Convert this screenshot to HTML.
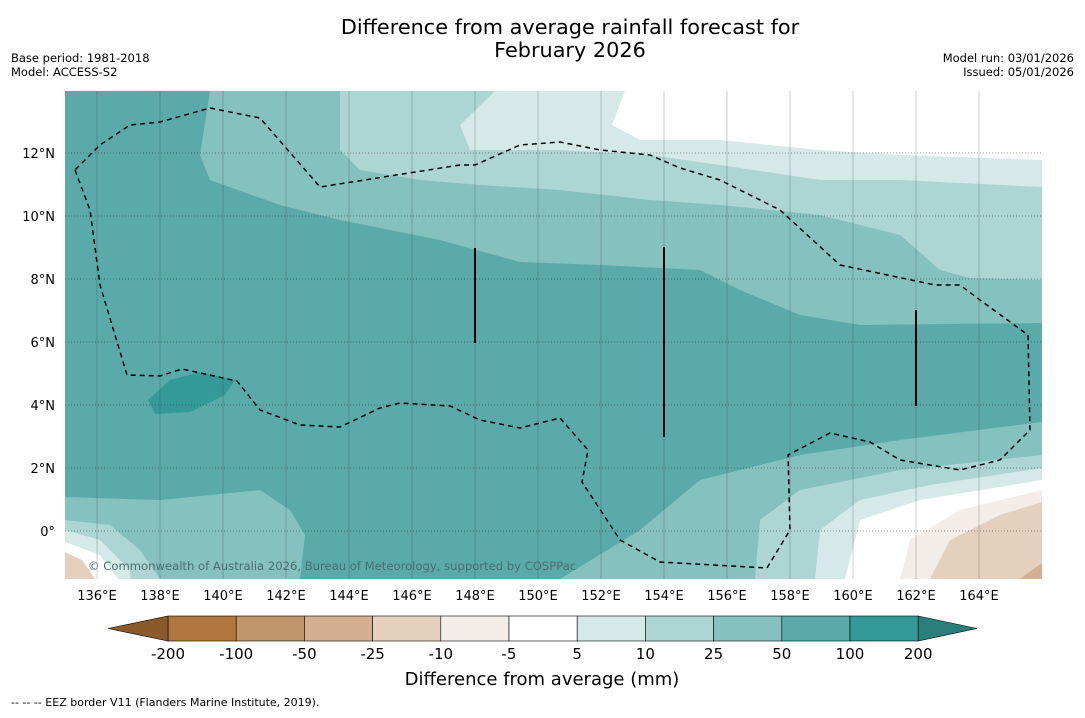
<!DOCTYPE html>
<html><head><meta charset="utf-8"><style>
body{margin:0;background:#fff;font-family:"Liberation Sans","DejaVu Sans",sans-serif;}
svg text{font-family:"DejaVu Sans","Liberation Sans",sans-serif;}
</style></head><body>
<svg id="c" width="1085" height="713" viewBox="0 0 1085 713">
<rect width="1085" height="713" fill="#fff"/>
<text x="570" y="34" font-size="20.8" text-anchor="middle">Difference from average rainfall forecast for</text>
<text x="570" y="57" font-size="20.8" text-anchor="middle">February 2026</text>
<text x="11" y="62" font-size="11.5">Base period: 1981-2018</text>
<text x="11" y="76" font-size="11.5">Model: ACCESS-S2</text>
<text x="1074" y="62" font-size="11.5" text-anchor="end">Model run: 03/01/2026</text>
<text x="1074" y="76" font-size="11.5" text-anchor="end">Issued: 05/01/2026</text>
<defs><clipPath id="mc"><rect x="65" y="91" width="977" height="488"/></clipPath></defs>
<g id="map" clip-path="url(#mc)">
<rect x="65" y="91" width="977" height="488" fill="#5aaaaa"/>
<polygon fill="#84c1bf" points="210,91 200,155 210,180 280,205 340,220 440,240 520,262 600,265 700,270 740,290 800,315 860,325 1042,323 1042,91"/>
<polygon fill="#acd5d4" points="340,91 340,150 360,170 420,180 480,185 560,190 650,200 720,205 820,215 900,235 940,270 970,278 1042,280 1042,91"/>
<polygon fill="#d5e9e8" points="495,91 460,125 470,150 560,150 650,155 720,165 820,180 900,180 1042,187 1042,91"/>
<polygon fill="#ffffff" points="625,91 612,125 640,140 720,140 820,150 900,155 1042,160 1042,91"/>
<polygon fill="#84c1bf" points="65,497 160,500 260,490 290,510 305,535 300,579 65,579"/>
<polygon fill="#84c1bf" points="560,579 640,530 700,480 800,455 900,440 1042,422 1042,579"/>
<polygon fill="#acd5d4" points="755,579 760,520 800,490 900,470 1042,455 1042,579"/>
<polygon fill="#acd5d4" points="65,520 110,525 140,550 160,579 65,579"/>
<polygon fill="#d5e9e8" points="815,579 820,530 860,500 930,485 1042,468 1042,579"/>
<polygon fill="#d5e9e8" points="65,530 100,540 130,570 130,579 65,579"/>
<polygon fill="#ffffff" points="845,579 860,520 920,500 1042,480 1042,579"/>
<polygon fill="#ffffff" points="65,542 100,555 118,579 65,579"/>
<polygon fill="#f2ede9" points="900,579 910,540 960,510 1042,490 1042,579"/>
<polygon fill="#e5d0bd" points="930,579 950,540 1000,515 1042,502 1042,579"/>
<polygon fill="#e5d0bd" points="65,552 82,560 95,579 65,579"/>
<polygon fill="#d3b091" points="1020,579 1042,563 1042,579"/>
<polygon fill="#349a97" points="148,400 170,380 200,372 235,380 225,395 190,412 155,414"/>
<g id="grid"></g>
<polyline fill="none" stroke="#000" stroke-width="1.5" stroke-dasharray="5,4" points="75,170 90,210 100,285 127,375 160,376 182,369 237,381 260,410 300,425 340,427 380,408 400,403 450,406 480,420 520,428 560,418 588,450 582,482 620,540 660,562 767,568 790,530 788,455 830,433 870,442 900,460 960,470 1000,460 1030,430 1028,335 980,300 960,285 935,285 840,265 780,210 720,180 680,168 650,155 600,150 560,142 520,145 475,165 460,165 320,187 260,118 210,108 160,122 130,125 100,145 75,170"/>
<line x1="475" y1="248" x2="475" y2="343" stroke="#000" stroke-width="2"/>
<line x1="664" y1="247" x2="664" y2="437" stroke="#000" stroke-width="2"/>
<line x1="916" y1="310" x2="916" y2="406" stroke="#000" stroke-width="2"/>
<text x="88" y="570" font-size="11.6" fill="#4a6f6f">© Commonwealth of Australia 2026, Bureau of Meteorology, supported by COSPPac</text>
</g>
<g id="axes"></g>
<g id="cbar"></g>
<text x="542" y="685" font-size="18" text-anchor="middle">Difference from average (mm)</text>
<text x="11" y="706" font-size="11">--  --  -- EEZ border V11 (Flanders Marine Institute, 2019).</text>
</svg>
<script>
const lonTicks=[136,138,140,142,144,146,148,150,152,154,156,158,160,162,164];
const latTicks=[0,2,4,6,8,10,12];
const cbTicks=["-200","-100","-50","-25","-10","-5","5","10","25","50","100","200"];
const cbColors=["#b07840","#c0956a","#d3b091","#e5d0bd","#f2ede9","#ffffff","#d5e9e8","#acd5d4","#84c1bf","#5aaaaa","#349a97"];
const NS="http://www.w3.org/2000/svg";
function xLon(l){return 65.5+(l-135)*31.5;}
function yLat(l){return 531-l*31.5;}
function mk(t,a,p){const e=document.createElementNS(NS,t);for(const k in a)e.setAttribute(k,a[k]);p.appendChild(e);return e;}
const g=document.getElementById('grid'),ax=document.getElementById('axes'),cb=document.getElementById('cbar');
lonTicks.forEach(l=>{
 const ln=mk('line',{x1:xLon(l),x2:xLon(l),y1:91,y2:579,stroke:'#333','stroke-opacity':0.25,'stroke-width':1},g);
 
 
 const t=mk('text',{x:xLon(l),y:600,'font-size':13,'text-anchor':'middle'},ax);t.textContent=l+'°E';
 
 
});
latTicks.forEach(l=>{
 const ln=mk('line',{x1:65,x2:1042,y1:yLat(l),y2:yLat(l),stroke:'#333','stroke-opacity':0.5,'stroke-width':1,'stroke-dasharray':'1,2'},g);
 
 
 const t=mk('text',{x:55,y:yLat(l)+5,'font-size':13,'text-anchor':'end'},ax);t.textContent=l===0?'0°':l+'°N';
 
 
});
const bx=168,bw=68.2,by=616,bh=25;
cbColors.forEach((c,i)=>{
 const r=mk('rect',{x:bx+i*bw,y:by,width:bw,height:bh,fill:c,stroke:'#000','stroke-width':0.6},cb);
 
 
});
const lt=mk('polygon',{points:`108,${by+bh/2} ${bx},${by} ${bx},${by+bh}`,fill:'#8a5a2b',stroke:'#000','stroke-width':0.6},cb);


const rt=mk('polygon',{points:`${bx+11*bw},${by} 977,${by+bh/2} ${bx+11*bw},${by+bh}`,fill:'#2a7f7d',stroke:'#000','stroke-width':0.6},cb);


cbTicks.forEach((s,i)=>{
 const t=mk('text',{x:bx+i*bw,y:659,'font-size':15,'text-anchor':'middle'},cb);t.textContent=s;
 
 
});
</script>
</body></html>
